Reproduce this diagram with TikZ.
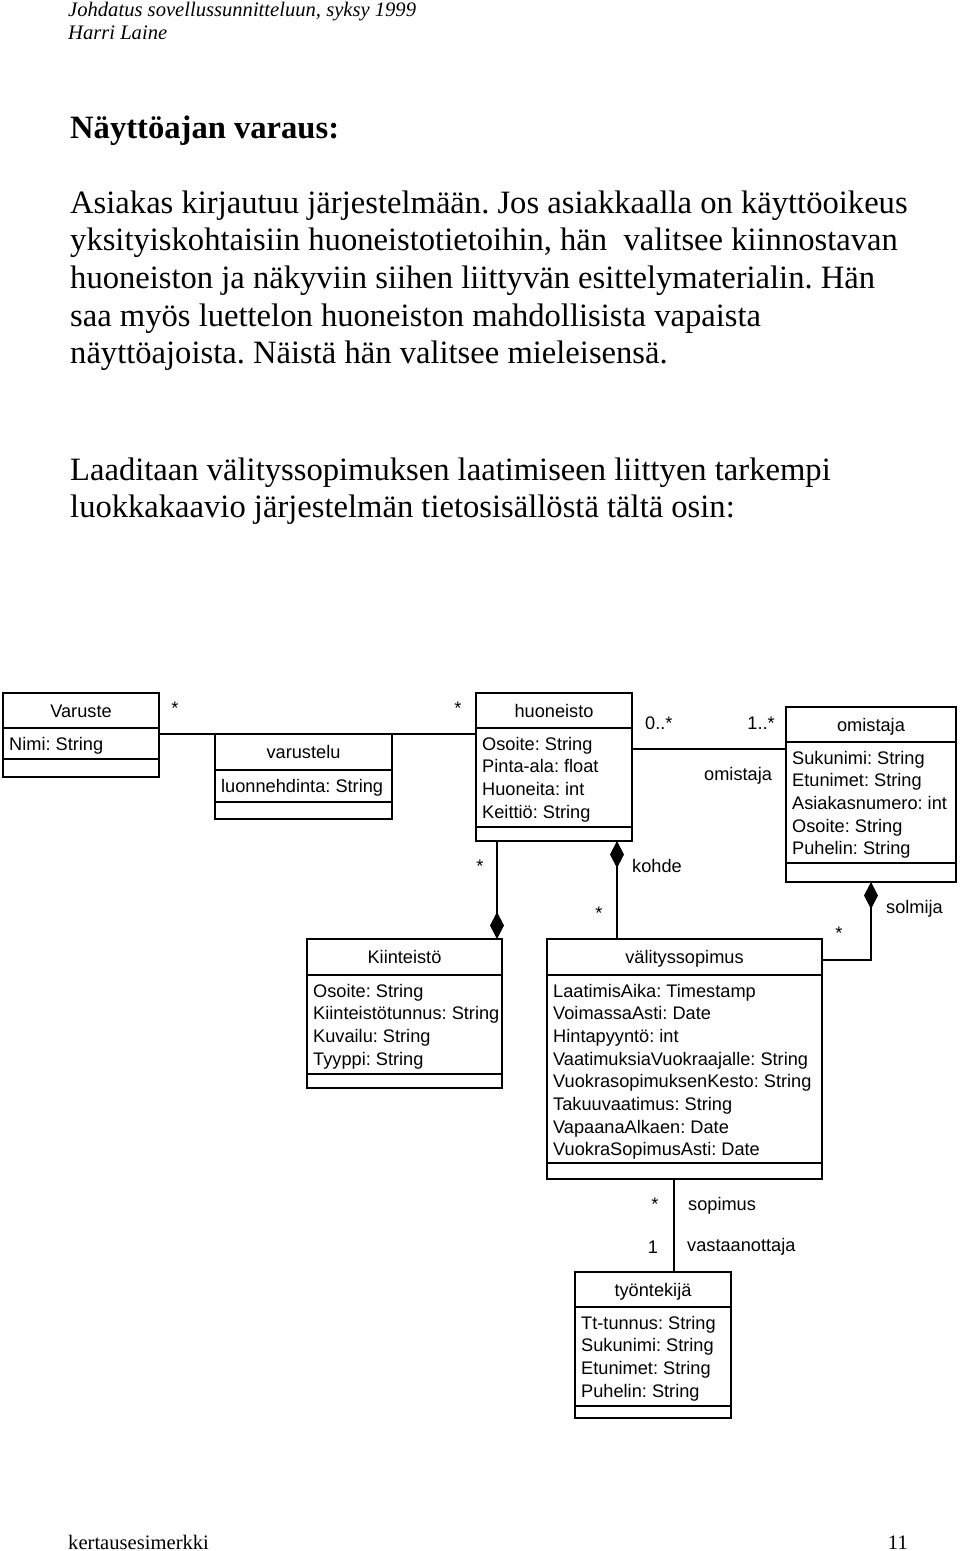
\documentclass[tikz,border=0pt]{standalone}
\usepackage{fontspec}
\setmainfont{Liberation Serif}
\newfontfamily\umlfont{Liberation Sans}
\usetikzlibrary{arrows.meta}
\frenchspacing

% luokka: nimi, vasen yläkulma, leveys, korkeus, erotin 1, erotin 2, otsikko, attribuutit
\newcommand{\umlclass}[8]{%
  \node[umlbox, minimum width=#3, minimum height=#4, anchor=north west] (#1) at (#2) {};
  \draw[umlline] ([yshift=-#5]#1.north west) -- ([yshift=-#5]#1.north east);
  \draw[umlline] ([yshift=-#6]#1.north west) -- ([yshift=-#6]#1.north east);
  \node[umltext, anchor=base] (#1-nimi) at ([yshift={-#5/2-6.5}]#1.north) {#7};
  \foreach \atr [count=\i] in {#8}
    \node[umltext, anchor=base west] (#1-a\i) at ([xshift=6, yshift={-#5-22-22.7*(\i-1)}]#1.north west) {\atr};
}

\begin{document}
\begin{tikzpicture}[x=1pt, y=-1pt,
    umlbox/.style={draw, line width=1.4pt, inner sep=0pt, outer sep=0pt},
    umlline/.style={line width=1.4pt},
    comp/.style={umlline, -{Diamond[length=27pt, width=14pt]}},
    umltext/.style={font=\umlfont\fontsize{18.2}{22}\selectfont, inner sep=0pt},
    umllabel/.style={umltext, anchor=west},
    body/.style={font=\fontsize{32.6}{37.5}\selectfont, inner sep=0pt, anchor=base west},
    heading/.style={body, font=\bfseries\fontsize{32.6}{37.5}\selectfont},
    small/.style={font=\fontsize{20.6}{23.7}\selectfont, inner sep=0pt, anchor=base west}]

    \fill[white] (0,0) rectangle (960,1551);
    \useasboundingbox (0,0) rectangle (960,1551);

    % Sivun yläreuna
    \node[small, font=\itshape\fontsize{20.6}{23.7}\selectfont] (kurssi) at (68,16) {Johdatus sovellussunnitteluun, syksy 1999};
    \node[small, font=\itshape\fontsize{20.6}{23.7}\selectfont] (tekija) at (68,39) {Harri Laine};

    % Otsikko ja teksti
    \node[heading] (otsikko) at (70,138.3) {Näyttöajan varaus:};
    \node[body] (rivi1) at (70,213.3) {Asiakas kirjautuu järjestelmään. Jos asiakkaalla on käyttöoikeus};
    \node[body] (rivi2) at (70,250.9) {yksityiskohtaisiin huoneistotietoihin, hän~ valitsee kiinnostavan};
    \node[body] (rivi3) at (70,288.5) {huoneiston ja näkyviin siihen liittyvän esittelymaterialin. Hän};
    \node[body] (rivi4) at (70,326.1) {saa myös luettelon huoneiston mahdollisista vapaista};
    \node[body] (rivi5) at (70,363.7) {näyttöajoista. Näistä hän valitsee mieleisensä.};
    \node[body] (rivi6) at (70,480) {Laaditaan välityssopimuksen laatimiseen liittyen tarkempi};
    \node[body] (rivi7) at (70,517.6) {luokkakaavio järjestelmän tietosisällöstä tältä osin:};

    % Luokat
    \umlclass{varuste}{3,693}{156}{84}{35}{66}{Varuste}{Nimi: String}
    \umlclass{varustelu}{215,734}{177}{85}{36}{68}{varustelu}{luonnehdinta: String}
    \umlclass{huoneisto}{476,693}{156}{148}{35}{134}{huoneisto}{Osoite: String, Pinta-ala: float, Huoneita: int, Keittiö: String}
    \umlclass{omistaja}{786,707}{170}{175}{35}{156}{omistaja}{Sukunimi: String, Etunimet: String, Asiakasnumero: int, Osoite: String, Puhelin: String}
    \umlclass{kiinteisto}{307,939}{195}{149}{36}{135}{Kiinteistö}{Osoite: String, Kiinteistötunnus: String, Kuvailu: String, Tyyppi: String}
    \umlclass{valitys}{547,939}{275}{240}{36}{224}{välityssopimus}{LaatimisAika: Timestamp, VoimassaAsti: Date, Hintapyyntö: int, VaatimuksiaVuokraajalle: String, VuokrasopimuksenKesto: String, Takuuvaatimus: String, VapaanaAlkaen: Date, VuokraSopimusAsti: Date}
    \umlclass{tyontekija}{575,1272}{156}{146}{35}{134}{työntekijä}{Tt-tunnus: String, Sukunimi: String, Etunimet: String, Puhelin: String}

    % Yhteydet
    \draw[umlline] (varuste.east |- varustelu.north) -- (huoneisto.west |- varustelu.north);
    \coordinate (ho) at ([yshift=-42]omistaja.north west);
    \draw[umlline] (ho) -- (ho -| huoneisto.east);
    \coordinate (hk) at ([xshift=21]huoneisto.south west);
    \draw[comp] (hk) -- (hk |- kiinteisto.north);
    \coordinate (hv) at ([xshift=-15]huoneisto.south east);
    \draw[comp] (hv |- valitys.north) -- (hv);
    \coordinate (os) at ([xshift=85]omistaja.south west);
    \draw[comp] ([yshift=-21]valitys.north east) -| (os);
    \coordinate (vt) at ([xshift=99]tyontekija.north west);
    \draw[umlline] (vt |- valitys.south) -- (vt);

    % Roolit ja osallistumisrajoitteet
    \node[umltext] (m1) at (175,708) {*};
    \node[umltext] (m2) at (458,708) {*};
    \node[umllabel] (m3) at (645,723) {0..*};
    \node[umllabel, anchor=east] (m4) at (775,723) {1..*};
    \node[umllabel] (r1) at (704,776) {omistaja};
    \node[umltext] (m5) at (480,866) {*};
    \node[umllabel] (r2) at (632,866) {kohde};
    \node[umltext] (m6) at (599,913) {*};
    \node[umltext] (m7) at (839,933) {*};
    \node[umllabel] (r3) at (886,909) {solmija};
    \node[umltext] (m8) at (655,1204) {*};
    \node[umllabel] (r4) at (688,1206) {sopimus};
    \node[umltext] (m9) at (653,1247) {1};
    \node[umllabel] (r5) at (687,1247) {vastaanottaja};

    % Alareuna
    \node[small] (alaviite) at (68,1549) {kertausesimerkki};
    \node[small, anchor=base east] (sivu) at (908,1549) {11};
\end{tikzpicture}
\end{document}
